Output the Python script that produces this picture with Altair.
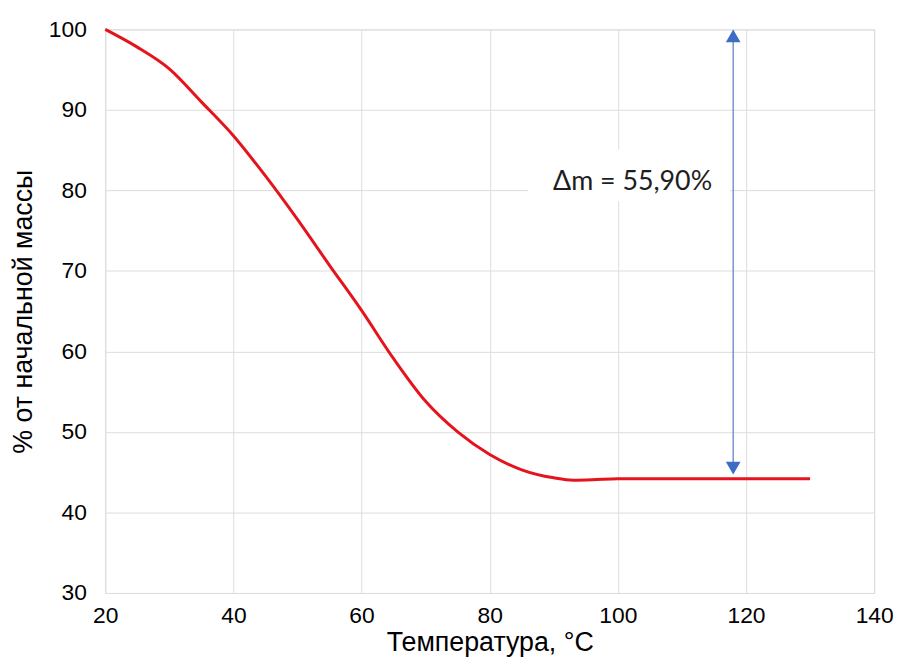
import altair as alt
import pandas as pd

# Curve: temperature (°C) vs % of initial mass
temperature = [20, 25, 30, 35, 40, 45, 50, 55, 60, 65, 70, 75, 80, 85, 90, 93, 96, 100, 110, 120, 130]
mass_pct = [100, 97.8, 95.1, 91.0, 86.8, 81.8, 76.4, 70.7, 65.1, 59.1, 53.8, 50.0, 47.2, 45.3, 44.3, 44.0, 44.05, 44.2, 44.2, 44.2, 44.2]

x_ticks = [20, 40, 60, 80, 100, 120, 140]
y_ticks = [30, 40, 50, 60, 70, 80, 90, 100]

# Annotation (Δm arrow and label)
arrow_t = [118]
arrow_low = [45.5]
arrow_high = [99.2]
label_text = ["Δm = 55,90%"]
label_t = [102.3]
label_m = [80.0]
box_t = [86.0]
box_t2 = [117.5]
box_m = [78.7]
box_m2 = [85.1]

FONT = "Liberation Sans"

df = pd.DataFrame({"T": temperature, "m": mass_pct})
arrow_df = pd.DataFrame({"T": arrow_t, "m": arrow_low, "m2": arrow_high})
heads_df = pd.DataFrame({"T": arrow_t * 2, "m": arrow_low + arrow_high,
                         "shape": ["triangle-down", "triangle-up"]})
label_df = pd.DataFrame({"T": label_t, "m": label_m, "label": label_text})
box_df = pd.DataFrame({"T": box_t, "T2": box_t2, "m": box_m, "m2": box_m2})

xscale = alt.Scale(domain=[20, 140], nice=False, zero=False)
yscale = alt.Scale(domain=[30, 100], nice=False, zero=False)

X = alt.X("T:Q", scale=xscale,
          axis=alt.Axis(values=x_ticks, title="Температура, °C", grid=True, domain=False,
                        ticks=False, tickSize=0, labelPadding=12, labelFontSize=23,
                        titleFontSize=27, titleFontWeight="normal", titleY=58,
                        titleBaseline="alphabetic", labelFlush=False))
Y = alt.Y("m:Q", scale=yscale,
          axis=alt.Axis(values=y_ticks, title="% от начальной массы", grid=True, domain=False,
                        ticks=False, tickSize=0, labelPadding=19, labelFontSize=23,
                        titleFontSize=27, titleFontWeight="normal", titleAngle=270,
                        titleX=-74, titleY=284, titleAlign="center",
                        titleBaseline="alphabetic", labelFlush=False))
Xp = alt.X("T:Q", scale=xscale)
Yp = alt.Y("m:Q", scale=yscale)

line = alt.Chart(df).mark_line(color="#e5141c", strokeWidth=3, interpolate="monotone").encode(
    x=X, y=Y
)

box = alt.Chart(box_df).mark_rect(color="white").encode(
    x=Xp, x2="T2:Q", y=Yp, y2="m2:Q"
)

text = alt.Chart(label_df).mark_text(font="Lato", fontSize=27, align="center",
                                     baseline="alphabetic", color="#1e1e1e").encode(
    x=Xp, y=Yp, text="label:N"
)

rule = alt.Chart(arrow_df).mark_rule(color="#5f84c8", strokeWidth=1.3).encode(
    x=Xp, y=Yp, y2="m2:Q"
)

heads = alt.Chart(heads_df).mark_point(filled=True, size=220, color="#3d6cc4", opacity=1).encode(
    x=Xp, y=Yp,
    shape=alt.Shape("shape:N", scale=None, legend=None),
)

chart = alt.layer(line, box, text, rule, heads).properties(
    width=775, height=568,
    padding={"left": 98, "top": 19, "right": 20, "bottom": 66},
    autosize=alt.AutoSizeParams(type="none"),
).configure_view(
    stroke="#c4c4c4", strokeWidth=1.5
).configure_axis(
    labelFont=FONT, titleFont=FONT, labelColor="#111111", titleColor="#111111",
    gridColor="#dcdcdc", gridWidth=1.5,
).configure(background="white")

chart.save("out.html", embed_options={"renderer": "svg", "actions": False})
